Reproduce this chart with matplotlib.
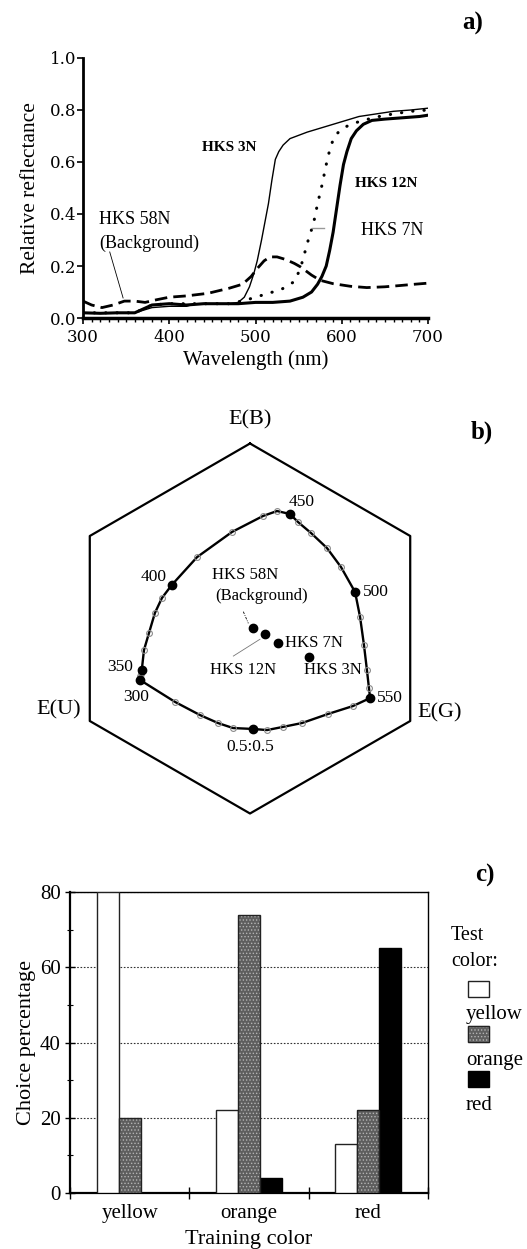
import numpy as np
import matplotlib
matplotlib.use('Agg')
import matplotlib.pyplot as plt
from matplotlib.patches import Rectangle

plt.rcParams['font.family'] = ['Liberation Serif', 'DejaVu Serif']
plt.rcParams['hatch.linewidth'] = 0.6

# ---------------- Panel a: reflectance spectra ----------------
wl_3n = [300, 320, 340, 360, 370, 380, 400, 420, 425, 430, 450, 470, 480, 487, 493, 498, 502, 507,
         511, 515, 519, 523, 527, 532, 540, 560, 580, 600, 620, 640, 660, 680, 700]
r_3n = [0.02, 0.02, 0.018, 0.02, 0.03, 0.04, 0.045, 0.045, 0.05, 0.055, 0.055, 0.055, 0.06, 0.08,
        0.12, 0.17, 0.22, 0.30, 0.37, 0.44, 0.53, 0.61, 0.64, 0.665, 0.69, 0.715, 0.735, 0.755,
        0.775, 0.785, 0.795, 0.80, 0.807]

wl_7n = [300, 320, 340, 360, 370, 380, 400, 420, 440, 460, 480, 500, 520, 540, 555, 565, 572, 577,
         582, 586, 590, 594, 598, 602, 606, 611, 617, 625, 635, 650, 670, 690, 700]
r_7n = [0.02, 0.018, 0.02, 0.02, 0.035, 0.05, 0.055, 0.05, 0.055, 0.055, 0.055, 0.06, 0.06, 0.065,
        0.08, 0.10, 0.13, 0.16, 0.20, 0.26, 0.33, 0.42, 0.51, 0.59, 0.64, 0.69, 0.72, 0.745, 0.76,
        0.765, 0.77, 0.775, 0.78]

wl_12n = [300, 340, 360, 380, 400, 440, 470, 490, 510, 530, 545, 552, 557, 562, 567, 572, 577, 582,
          587, 592, 600, 612, 625, 640, 660, 680, 700]
r_12n = [0.02, 0.02, 0.02, 0.05, 0.055, 0.055, 0.055, 0.07, 0.09, 0.11, 0.14, 0.19, 0.25, 0.31,
         0.36, 0.44, 0.51, 0.59, 0.66, 0.70, 0.728, 0.747, 0.76, 0.773, 0.785, 0.795, 0.80]

wl_58n = [300, 310, 322, 335, 348, 360, 372, 385, 400, 420, 445, 470, 485, 495, 502, 510, 517, 525,
          535, 545, 552, 565, 575, 590, 610, 629, 650, 668, 685, 700]
r_58n = [0.065, 0.05, 0.04, 0.05, 0.065, 0.065, 0.06, 0.07, 0.08, 0.085, 0.095, 0.115, 0.13, 0.16,
         0.19, 0.22, 0.235, 0.235, 0.225, 0.21, 0.197, 0.165, 0.145, 0.132, 0.122, 0.117, 0.12,
         0.125, 0.13, 0.134]

# ---------------- Panel b: colour hexagon ----------------
locus_nm = [300, 310, 320, 330, 340, 350, 360, 370, 380, 390, 400, 410, 420, 430, 440, 450, 460,
            470, 480, 490, 500, 510, 520, 530, 540, 550]
locus_x = [-0.595, -0.595, -0.592, -0.589, -0.589, -0.585, -0.573, -0.546, -0.514, -0.476, -0.423,
           -0.286, -0.097, 0.070, 0.146, 0.216, 0.259, 0.330, 0.416, 0.492, 0.568, 0.595, 0.616,
           0.632, 0.643, 0.649]
locus_y = [-0.278, -0.268, -0.257, -0.246, -0.235, -0.224, -0.116, -0.024, 0.084, 0.165, 0.235,
           0.386, 0.522, 0.608, 0.635, 0.619, 0.576, 0.516, 0.435, 0.332, 0.197, 0.062, -0.089,
           -0.224, -0.322, -0.376]
labelled_nm = [300, 350, 400, 450, 500, 550]

mix_x = [0.649, 0.557, 0.422, 0.281, 0.178, 0.092, 0.016, -0.092, -0.173, -0.270, -0.405, -0.595]
mix_y = [-0.376, -0.419, -0.462, -0.511, -0.532, -0.549, -0.543, -0.538, -0.511, -0.468, -0.397, -0.278]
mix_mid_index = 6

stim_names = ['HKS 58N', 'HKS 12N', 'HKS 7N', 'HKS 3N']
stim_x = [0.014, 0.081, 0.150, 0.317]
stim_y = [0.004, -0.030, -0.080, -0.156]

# ---------------- Panel c: choice percentages ----------------
training = ['yellow', 'orange', 'red']
test_names = ['yellow', 'orange', 'red']
choice_yellow = [80, 22, 13]
choice_orange = [20, 74, 22]
choice_red = [0, 4, 65]

W, H = 527, 1249
fig = plt.figure(figsize=(W / 100, H / 100), dpi=100)


def fbox(x0, y0, x1, y1):
    return [x0 / W, 1 - y1 / H, (x1 - x0) / W, (y1 - y0) / H]


def fpt(x, y):
    return x / W, 1 - y / H


# ===== Panel a =====
axa = fig.add_axes(fbox(83, 58, 428, 318))
axa.plot(wl_12n, r_12n, color='black', lw=2.2, linestyle=(0, (0.1, 3.6)),
         dash_capstyle='round', zorder=2)
axa.plot(wl_58n, r_58n, color='black', lw=2.0, linestyle=(0, (4.5, 2.2)), zorder=3)
axa.plot(wl_3n, r_3n, color='black', lw=1.0, zorder=4)
axa.plot(wl_7n, r_7n, color='black', lw=2.2, zorder=5)
axa.set_xlim(300, 700)
axa.set_ylim(0, 1.0)
for s in ['top', 'right']:
    axa.spines[s].set_visible(False)
axa.spines['left'].set_linewidth(2.0)
axa.spines['bottom'].set_linewidth(2.5)
axa.set_xticks([300, 400, 500, 600, 700])
axa.set_xticks(np.arange(300, 701, 10), minor=True)
axa.set_yticks([0, 0.2, 0.4, 0.6, 0.8, 1.0])
axa.set_yticklabels(['0.0', '0.2', '0.4', '0.6', '0.8', '1.0'])
axa.tick_params(axis='both', which='major', length=4, width=1.2, labelsize=12, pad=1)
axa.tick_params(axis='x', which='major', pad=4)
axa.tick_params(axis='x', which='minor', length=3, width=1.0)
for lab in axa.get_xticklabels() + axa.get_yticklabels():
    lab.set_family('DejaVu Serif')
axa.set_xlabel('Wavelength (nm)', fontsize=15, labelpad=3)
axa.set_ylabel('Relative reflectance', fontsize=15.5, labelpad=7)
axa.text(470, 0.654, 'HKS 3N', fontsize=11, fontweight='bold', ha='center', va='center')
axa.text(651, 0.519, 'HKS 12N', fontsize=11, fontweight='bold', ha='center', va='center')
axa.text(658, 0.338, 'HKS 7N', fontsize=13, ha='center', va='center')
axa.text(360, 0.377, 'HKS 58N', fontsize=13, ha='center', va='center')
axa.text(377, 0.288, '(Background)', fontsize=13, ha='center', va='center')
axa.plot([331, 346.5], [0.254, 0.077], color='black', lw=0.6)
axa.plot([566, 579], [0.347, 0.347], color='#999999', lw=1.0)
fig.text(*fpt(473, 23), 'a)', fontsize=18, fontweight='bold', ha='center', va='center')

# ===== Panel b =====
axb = fig.add_axes([0, 1 - 850 / H, 1, 450 / H])
axb.set_xlim((0 - 250) / 185, (527 - 250) / 185)
axb.set_ylim((628.5 - 850) / 185, (628.5 - 400) / 185)
axb.axis('off')
ang = np.deg2rad(np.arange(90, 450, 60))
hx = np.cos(ang)
hy = np.sin(ang)
axb.plot(np.append(hx, hx[0]), np.append(hy, hy[0]), color='black', lw=1.6)
axb.plot(locus_x, locus_y, color='black', lw=1.7, zorder=2)
axb.plot(mix_x, mix_y, color='black', lw=1.7, zorder=2)
axb.plot(locus_x, locus_y, 'o', ms=4.2, mfc='none', mec='#8a8a8a', mew=0.8, zorder=3)
axb.plot(mix_x, mix_y, 'o', ms=4.2, mfc='none', mec='#8a8a8a', mew=0.8, zorder=3)
lab_idx = [locus_nm.index(n) for n in labelled_nm]
axb.plot([locus_x[i] for i in lab_idx], [locus_y[i] for i in lab_idx], 'o', ms=6, color='black', zorder=4)
axb.plot([mix_x[mix_mid_index]], [mix_y[mix_mid_index]], 'o', ms=6, color='black', zorder=4)
axb.plot(stim_x, stim_y, 'o', ms=6, color='black', zorder=4)

nm_label_pos = {300: (-0.616, -0.369, 'center'), 350: (-0.703, -0.206, 'center'),
                400: (-0.523, 0.277, 'center'), 450: (0.279, 0.685, 'center'),
                500: (0.61, 0.199, 'left'), 550: (0.757, -0.377, 'center')}
for n in labelled_nm:
    x, y, ha = nm_label_pos[n]
    axb.text(x, y, str(n), fontsize=12.5, ha=ha, va='center')
axb.text(0.0, -0.639, '0.5:0.5', fontsize=12.5, ha='center', va='center')
axb.text(-0.027, 0.289, stim_names[0], fontsize=12, ha='center', va='center')
axb.text(0.063, 0.176, '(Background)', fontsize=12, ha='center', va='center')
axb.plot([-0.036, -0.009], [0.091, 0.028], color='black', lw=0.6, linestyle=(0, (3, 1.5, 1, 1.5)))
axb.text(-0.036, -0.224, stim_names[1], fontsize=12, ha='center', va='center')
axb.plot([-0.090, 0.054], [-0.149, -0.058], color='#777777', lw=0.6)
axb.text(0.189, -0.080, stim_names[2], fontsize=12, ha='left', va='center')
axb.text(0.450, -0.224, stim_names[3], fontsize=12, ha='center', va='center')
axb.text(0.0, 1.127, 'E(B)', fontsize=16, ha='center', va='center')
axb.text(-1.032, -0.441, 'E(U)', fontsize=16, ha='center', va='center')
axb.text(1.027, -0.457, 'E(G)', fontsize=16, ha='center', va='center')
fig.text(*fpt(482, 432), 'b)', fontsize=18, fontweight='bold', ha='center', va='center')

# ===== Panel c =====
axc = fig.add_axes(fbox(70, 892, 428, 1193))
xc = np.arange(len(training))
bw = 0.185
axc.bar(xc - bw, choice_yellow, bw, color='white', edgecolor='#222222', lw=1.0, zorder=3)
axc.bar(xc, choice_orange, bw, color='#5e5e5e', edgecolor='#b4b4b4', hatch='.....', lw=0, zorder=3)
axc.bar(xc, choice_orange, bw, fill=False, edgecolor='#222222', lw=1.0, zorder=4)
axc.bar(xc + bw, choice_red, bw, color='black', edgecolor='black', lw=1.0, zorder=3)
axc.set_xlim(-0.5, 2.5)
axc.set_ylim(0, 80)
axc.set_yticks([0, 20, 40, 60, 80])
axc.set_yticks(np.arange(10, 80, 20), minor=True)
axc.set_xticks(xc)
axc.set_xticklabels(training)
axc.set_xticks([-0.5, 0.5, 1.5, 2.5], minor=True)
axc.tick_params(axis='x', which='major', length=0, labelsize=15, pad=8)
axc.tick_params(axis='x', which='minor', direction='inout', length=8, width=1.0)
axc.tick_params(axis='y', which='major', direction='inout', length=7, width=1.0, labelsize=15, pad=3)
axc.tick_params(axis='y', which='minor', direction='inout', length=4, width=0.8)
axc.grid(axis='y', linestyle=(0, (1.5, 1.5)), color='#333333', lw=0.8, zorder=0)
axc.spines['left'].set_linewidth(1.6)
axc.spines['bottom'].set_linewidth(1.6)
axc.spines['top'].set_linewidth(1.0)
axc.spines['right'].set_linewidth(1.0)
axc.set_ylabel('Choice percentage', fontsize=16, labelpad=3)
axc.set_xlabel('Training color', fontsize=16, labelpad=5)
fig.text(*fpt(485, 875), 'c)', fontsize=18, fontweight='bold', ha='center', va='center')

# legend (Test color)
fig.text(*fpt(451, 935), 'Test', fontsize=14.5, ha='left', va='center')
fig.text(*fpt(451, 962), 'color:', fontsize=14.5, ha='left', va='center')
sw_y = [981, 1026, 1071]
lab_y = [1015, 1060, 1105]
sw_style = [dict(facecolor='white', edgecolor='#222222'),
            dict(facecolor='#5e5e5e', edgecolor='#b4b4b4', hatch='.....'),
            dict(facecolor='black', edgecolor='black')]
for name, yy, ly, st in zip(test_names, sw_y, lab_y, sw_style):
    x0, y0 = fpt(468, yy + 16)
    fig.patches.append(Rectangle((x0, y0), 21 / W, 16 / H, transform=fig.transFigure,
                                 lw=1.0, **st))
    if 'hatch' in st:
        fig.patches.append(Rectangle((x0, y0), 21 / W, 16 / H, transform=fig.transFigure,
                                     fill=False, edgecolor='#222222', lw=1.0))
    fig.text(*fpt(466, ly), name, fontsize=15, ha='left', va='center')

fig.savefig('out.png', dpi=100)
